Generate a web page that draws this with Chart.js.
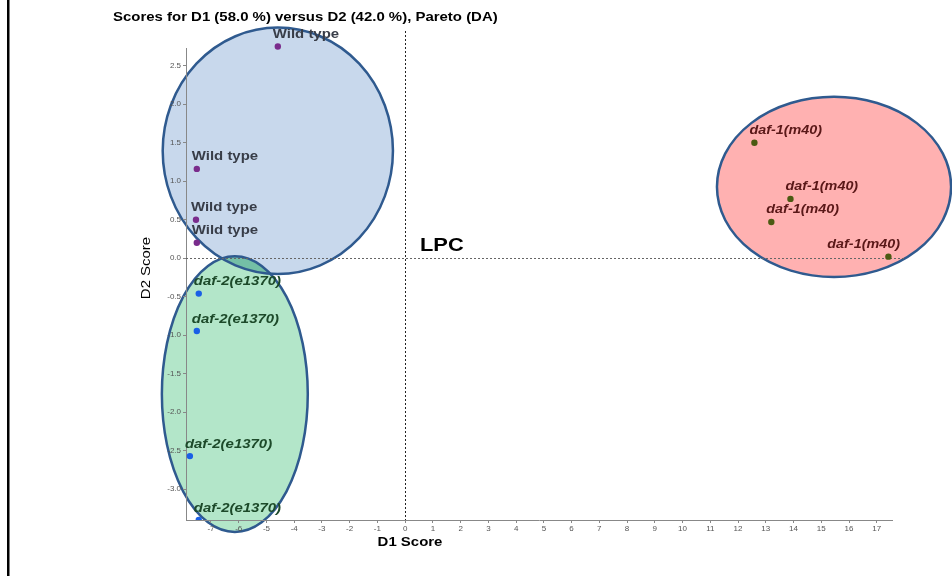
<!DOCTYPE html>
<html><head><meta charset="utf-8">
<script src="https://cdn.jsdelivr.net/npm/chart.js@4"></script>
<style>html,body{margin:0;padding:0;background:#fff;}canvas{display:block;}</style>
</head><body>
<canvas id="c" width="952" height="576"></canvas>
<script>
// ---- data ----
const groupNames = ['Wild type', 'daf-2(e1370)', 'daf-1(m40)'];
const wildTypeX = [-4.59, -7.51, -7.54, -7.51];
const wildTypeY = [2.75, 1.16, 0.50, 0.20];
const daf2X = [-7.44, -7.51, -7.76, -7.44];
const daf2Y = [-0.46, -0.945, -2.57, -3.40];
const daf1X = [12.59, 13.89, 13.20, 17.42];
const daf1Y = [1.50, 0.77, 0.47, 0.02];
const xTicks = [-7,-6,-5,-4,-3,-2,-1,0,1,2,3,4,5,6,7,8,9,10,11,12,13,14,15,16,17];
const yTicks = [-3.0,-2.5,-2.0,-1.5,-1.0,-0.5,0.0,0.5,1.0,1.5,2.0,2.5];
// group ellipses in score units (centre D1, centre D2, half-width D1, half-height D2)
const ellipseCX = [-4.59, -6.14, 15.46];
const ellipseCY = [1.395, -1.765, 0.927];
const ellipseRX = [4.15, 2.63, 4.22];
const ellipseRY = [1.60, 1.79, 1.17];

const FONT = "'Liberation Sans', Arial, Helvetica, sans-serif";
const pointColors = ['#7a2c8c', '#1a5fe6', '#4b5a12'];
const labelColors = ['#383d48', '#1d4a2a', '#5a1818'];
const labelFonts = ['bold 13px ' + FONT, 'italic bold 13px ' + FONT, 'italic bold 12.5px ' + FONT];
const ellipseFill = ['#c8d8ec', '#b3e6c9', '#ffb1b1'];
const overlapFill = '#74bfa6';
const SX = 1.15;

function toPts(xs, ys) { return xs.map((x, i) => ({ x: x, y: ys[i] })); }

function stretchedText(ctx, text, x, y, font, color, align, rot) {
  ctx.save();
  ctx.font = font; ctx.fillStyle = color;
  ctx.textAlign = align || 'left'; ctx.textBaseline = 'middle';
  ctx.translate(x, y);
  if (rot) ctx.rotate(rot);
  ctx.scale(SX, 1);
  ctx.fillText(text, 0, 0);
  ctx.restore();
}

function ellipsePath(ctx, xs, ys, i) {
  const cx = xs.getPixelForValue(ellipseCX[i]);
  const cy = ys.getPixelForValue(ellipseCY[i]);
  const rx = Math.abs(xs.getPixelForValue(ellipseCX[i] + ellipseRX[i]) - cx);
  const ry = Math.abs(ys.getPixelForValue(ellipseCY[i] + ellipseRY[i]) - cy);
  ctx.beginPath();
  ctx.ellipse(cx, cy, rx, ry, 0, 0, Math.PI * 2);
}

const decor = {
  id: 'decor',
  beforeDraw(chart) {
    const ctx = chart.ctx, xs = chart.scales.x, ys = chart.scales.y;
    ctx.save();
    for (let i = 0; i < ellipseCX.length; i++) {
      ellipsePath(ctx, xs, ys, i); ctx.fillStyle = ellipseFill[i]; ctx.fill();
    }
    for (let i = 0; i < ellipseCX.length; i++) {
      for (let j = i + 1; j < ellipseCX.length; j++) {
        ctx.save();
        ellipsePath(ctx, xs, ys, i); ctx.clip();
        ellipsePath(ctx, xs, ys, j); ctx.fillStyle = overlapFill; ctx.fill();
        ctx.restore();
      }
    }
    ctx.lineWidth = 2.5; ctx.strokeStyle = '#2f5a8f';
    for (let i = 0; i < ellipseCX.length; i++) { ellipsePath(ctx, xs, ys, i); ctx.stroke(); }
    ctx.restore();
  },
  beforeDatasetsDraw(chart) {
    const ctx = chart.ctx, xs = chart.scales.x, ys = chart.scales.y, a = chart.chartArea;
    ctx.save();
    const y0 = Math.round(ys.getPixelForValue(0)) + 0.5;
    const x0 = Math.round(xs.getPixelForValue(0)) + 0.5;
    ctx.lineWidth = 1; ctx.setLineDash([2, 2]);
    ctx.strokeStyle = '#666';
    ctx.beginPath(); ctx.moveTo(a.left, y0); ctx.lineTo(a.right + 13, y0); ctx.stroke();
    ctx.strokeStyle = '#222';
    ctx.beginPath(); ctx.moveTo(x0, 31); ctx.lineTo(x0, a.bottom); ctx.stroke();
    ctx.restore();
  },
  afterDatasetsDraw(chart) {
    const ctx = chart.ctx, a = chart.chartArea;
    chart.data.datasets.forEach((ds, di) => {
      const meta = chart.getDatasetMeta(di);
      meta.data.forEach((el) => {
        ctx.font = labelFonts[di];
        const w = ctx.measureText(groupNames[di]).width * SX;
        let x = el.x - 5;
        if (x + w > a.right + 8) x = a.right + 8 - w;
        stretchedText(ctx, groupNames[di], x, el.y - 12, labelFonts[di], labelColors[di], 'left');
      });
    });
  },
  afterDraw(chart) {
    const ctx = chart.ctx;
    stretchedText(ctx, 'Scores for D1 (58.0 %) versus D2 (42.0 %), Pareto (DA)', 113, 17, 'bold 13px ' + FONT, '#000', 'left');
    stretchedText(ctx, 'LPC', 420, 246, 'bold 19px ' + FONT, '#000', 'left');
    stretchedText(ctx, 'D1 Score', 410, 542, 'bold 13px ' + FONT, '#000', 'center');
    stretchedText(ctx, 'D2 Score', 146, 268, '13px ' + FONT, '#000', 'center', -Math.PI / 2);
    ctx.save(); ctx.fillStyle = '#000'; ctx.fillRect(7, 0, 2.5, 576); ctx.restore();
  }
};

new Chart(document.getElementById('c'), {
  type: 'scatter',
  data: {
    datasets: [
      { label: groupNames[0], data: toPts(wildTypeX, wildTypeY) },
      { label: groupNames[1], data: toPts(daf2X, daf2Y) },
      { label: groupNames[2], data: toPts(daf1X, daf1Y) }
    ].map((d, i) => Object.assign(d, {
      backgroundColor: pointColors[i], borderColor: pointColors[i],
      pointRadius: 3.2, borderWidth: 0, clip: { left: 6, right: 6, top: 6, bottom: 0 }
    }))
  },
  options: {
    responsive: false, animation: false, devicePixelRatio: 1,
    layout: { padding: { top: 48, right: 60, left: 0, bottom: 0 } },
    plugins: { legend: { display: false }, tooltip: { enabled: false }, title: { display: false } },
    scales: {
      x: {
        type: 'linear', min: -7.9, max: 17.55,
        afterBuildTicks: s => { s.ticks = xTicks.map(v => ({ value: v })); },
        afterFit: s => { s.height = 56; },
        ticks: { font: { size: 8, family: FONT }, color: '#555', padding: 1, maxRotation: 0, autoSkip: false },
        grid: { drawOnChartArea: false, drawTicks: true, tickLength: 3, color: '#888' },
        border: { color: '#888', width: 1 }
      },
      y: {
        type: 'linear', min: -3.40, max: 2.73,
        afterBuildTicks: s => { s.ticks = yTicks.map(v => ({ value: v })); },
        afterFit: s => { s.width = 186; },
        ticks: { font: { size: 8, family: FONT }, color: '#555', padding: 2, autoSkip: false, callback: v => Number(v).toFixed(1) },
        grid: { drawOnChartArea: false, drawTicks: true, tickLength: 3, color: '#888' },
        border: { color: '#888', width: 1 }
      }
    }
  },
  plugins: [decor]
});
</script>
</body></html>
